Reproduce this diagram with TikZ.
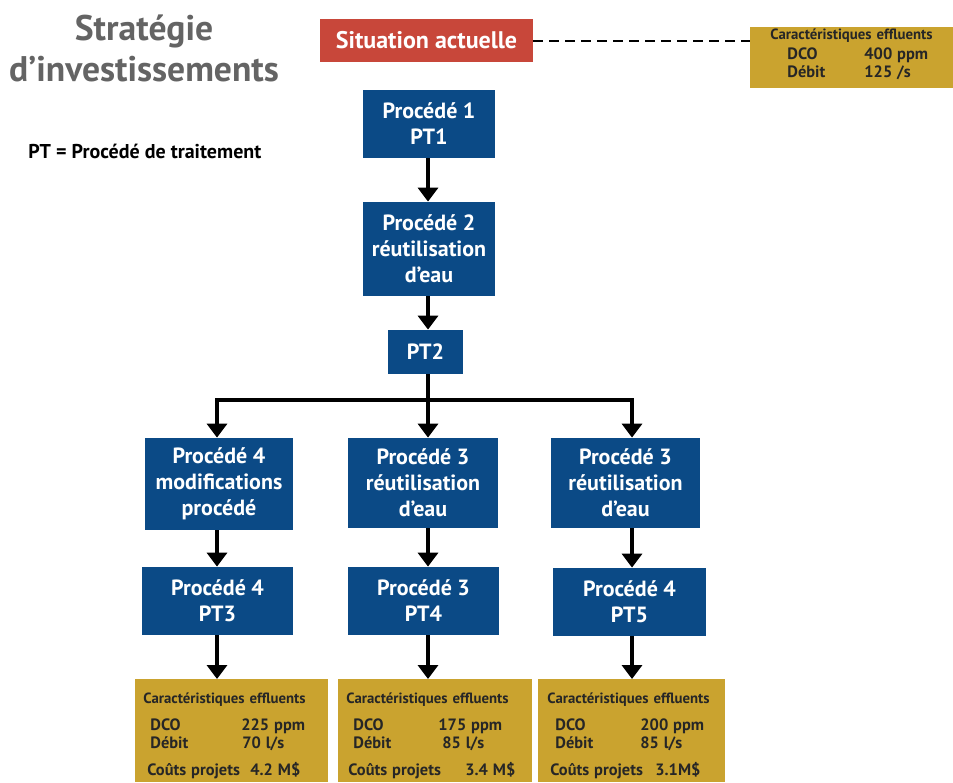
\documentclass[tikz,border=0pt]{standalone}
\usepackage{fontspec}
\setmainfont{PT Sans}
\usepackage{tikz}
\usetikzlibrary{positioning,arrows.meta}

\definecolor{procblue}{HTML}{0B4A86}
\definecolor{sitred}{HTML}{C8473A}
\definecolor{effgold}{HTML}{CAA32F}
\definecolor{effink}{HTML}{262626}
\definecolor{titlegray}{HTML}{646464}

\newcommand{\procfont}{\bfseries\fontsize{11}{13}\selectfont}
\newcommand{\efffont}{\bfseries\fontsize{7.4}{9}\selectfont}
\newcommand{\effhead}{\fontsize{7.4}{9}\selectfont}
\newcommand{\effbig}{\fontsize{8.2}{9}\selectfont}
\newcommand{\effrow}[3]{\makebox[#1][l]{#2}#3}

\begin{document}
\begin{tikzpicture}[x=0.5pt, y=-0.5pt,
    proc/.style={rectangle, fill=procblue, text=white, align=center, inner sep=0pt, font=\procfont},
    eff/.style={rectangle, fill=effgold, text=effink, align=left, inner xsep=4pt, inner ysep=0pt, anchor=north west, font=\efffont},
    flow/.style={-{Triangle[width=10pt,length=7pt]}, line width=1.8pt},
    bus/.style={line width=1.8pt}]
    \useasboundingbox (0,0) rectangle (953,782);

    % titre et legende
    \node[text=titlegray, align=center, font=\bfseries\fontsize{17.8}{20.5}\selectfont] (title) at (144,48) {Stratégie\\d’investissements};
    \node[anchor=west, inner sep=0pt, font=\bfseries\fontsize{10}{12}\selectfont] (legend) at (28,151) {PT = Procédé de traitement};

    % situation actuelle
    \node[rectangle, fill=sitred, text=white, font=\bfseries\fontsize{12}{14}\selectfont, minimum width=106.5pt, minimum height=21.5pt] (sit) at (426.5,40.5) {Situation actuelle};
    \node[eff, minimum width=101.5pt, minimum height=30.5pt, text width=93.5pt] (effin) at (750,27)
        {\effhead\hspace*{6pt}Caractéristiques effluents\\[1pt]
         \effbig\hspace*{14.5pt}\effrow{38.5pt}{DCO}{400 ppm}\\
         \effbig\hspace*{14.5pt}\effrow{38.5pt}{Débit}{125 /s}\rule[-5pt]{0pt}{5pt}};
    \draw[line width=1pt, dash pattern=on 5pt off 3pt] (sit.east) -- (sit.east -| effin.west);

    % tronc commun
    \node[proc, minimum width=66pt, minimum height=34pt] (proc1) at (429,124) {Procédé 1\\PT1};
    \node[proc, minimum width=66pt, minimum height=47pt] (proc2) at (429,249) {Procédé 2\\réutilisation\\d’eau};
    \node[proc, minimum width=37.5pt, minimum height=22pt] (pt2) at (425.5,352) {PT2};

    % branches
    \node[proc, minimum width=74pt, minimum height=46pt] (proc4a) at (219,484) {Procédé 4\\modifications\\procédé};
    \node[proc, minimum width=75pt, minimum height=45pt] (proc3a) at (423,483) {Procédé 3\\réutilisation\\d’eau};
    \node[proc, minimum width=74.5pt, minimum height=45pt] (proc3b) at (625.5,483) {Procédé 3\\réutilisation\\d’eau};
    \node[proc, minimum width=75.5pt, minimum height=34pt] (pt3) at (217.5,601) {Procédé 4\\PT3};
    \node[proc, minimum width=75.5pt, minimum height=34pt] (pt4) at (423.5,601) {Procédé 3\\PT4};
    \node[proc, minimum width=76.5pt, minimum height=34pt] (pt5) at (629.5,602) {Procédé 4\\PT5};

    % resultats
    \node[eff, minimum width=96.5pt, minimum height=51.5pt, text width=88.5pt] (eff3) at (135,679)
        {\effhead\rule{0pt}{10pt}Caractéristiques effluents\\[4.5pt]
         \effbig\hspace*{3.5pt}\effrow{45.5pt}{DCO}{225 ppm}\\
         \effbig\hspace*{3.5pt}\effrow{46pt}{Débit}{70 l/s}\\[4.5pt]
         \effbig\hspace*{2pt}\effrow{51.5pt}{Coûts projets}{4.2 M\$}};
    \node[eff, minimum width=97pt, minimum height=51.5pt, text width=89pt] (eff4) at (338,679)
        {\effhead\rule{0pt}{10pt}Caractéristiques effluents\\[4.5pt]
         \effbig\hspace*{3.5pt}\effrow{42.5pt}{DCO}{175 ppm}\\
         \effbig\hspace*{3.5pt}\effrow{44.5pt}{Débit}{85 l/s}\\[4.5pt]
         \effbig\hspace*{1pt}\effrow{58.5pt}{Coûts projets}{3.4 M\$}};
    \node[eff, minimum width=93.5pt, minimum height=51.5pt, text width=85.5pt] (eff5) at (538,679)
        {\effhead\rule{0pt}{10pt}\hspace*{0.5pt}Caractéristiques effluents\\[4.5pt]
         \effbig\hspace*{4.5pt}\effrow{42.5pt}{DCO}{200 ppm}\\
         \effbig\hspace*{4.5pt}\effrow{42.5pt}{Débit}{85 l/s}\\[4.5pt]
         \effbig\hspace*{2pt}\effrow{52.5pt}{Coûts projets}{3.1M\$}};

    % colonnes des fleches
    \coordinate (colA) at (217,400);
    \coordinate (colB) at (428,400);
    \coordinate (colC) at (632,400);

    \draw[flow] (proc1.south -| colB) -- (proc2.north -| colB);
    \draw[flow] (proc2.south -| colB) -- (pt2.north -| colB);
    \draw[flow] (pt2.south -| colB) -- (proc3a.north -| colB);
    \draw[bus, {Triangle[width=10pt,length=7pt]}-{Triangle[width=10pt,length=7pt]}]
        (proc4a.north -| colA) -- (colA) -- (colC) -- (proc3b.north -| colC);

    \draw[flow] (proc4a.south -| colA) -- (pt3.north -| colA);
    \draw[flow] (proc3a.south -| colB) -- (pt4.north -| colB);
    \draw[flow] (proc3b.south -| colC) -- (pt5.north -| colC);
    \draw[flow] (pt3.south -| colA) -- (eff3.north -| colA);
    \draw[flow] (pt4.south -| colB) -- (eff4.north -| colB);
    \draw[flow] (pt5.south -| colC) -- (eff5.north -| colC);
\end{tikzpicture}
\end{document}
